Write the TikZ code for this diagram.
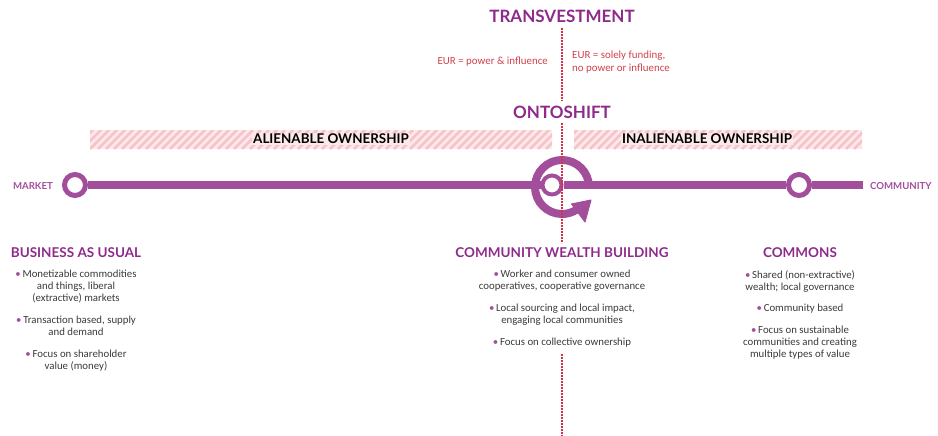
\documentclass[tikz,border=0pt]{standalone}
\usepackage{fontspec}
\setmainfont{Carlito}
\newfontfamily\headfont{Lato}
\usetikzlibrary{arrows.meta}
\definecolor{plum}{HTML}{A24E9B}
\definecolor{plumdark}{HTML}{8E2B8A}
\definecolor{redtxt}{HTML}{D2404A}
\definecolor{dotred}{HTML}{D53049}
\definecolor{txt}{HTML}{3A3A3A}
\definecolor{barbase}{HTML}{FDE8EA}
\definecolor{barstripe}{HTML}{F6C3CA}
\newcommand\bt{\textcolor{plum}{\textbullet}\,}
\tikzset{
  bul/.style={font=\fontsize{10.8}{12}\selectfont, text=txt, align=center, inner sep=0pt, anchor=north},
  head/.style={font=\headfont\bfseries\fontsize{13.5}{14}\selectfont, text=plumdark, inner sep=0pt},
  bigtitle/.style={font=\headfont\bfseries\fontsize{17}{18}\selectfont, text=plumdark, inner sep=1pt, fill=white},
  endlabel/.style={font=\headfont\bfseries\fontsize{9.6}{10}\selectfont, text=plum, inner sep=0pt},
  bartext/.style={font=\headfont\bfseries\fontsize{13.4}{14}\selectfont, text=black, fill=barbase, inner sep=1.5pt},
  eur/.style={font=\fontsize{10.9}{13}\selectfont, text=redtxt, inner sep=0pt},
  mainline/.style={draw=plum, line width=8.5pt},
  stop/.style={circle, draw=plum, fill=white, line width=5pt, minimum size=21pt, inner sep=0pt},
  ontostop/.style={circle, draw=plum, fill=white, line width=4pt, minimum size=19pt, inner sep=0pt},
  divider/.style={draw=dotred, line width=1.6pt, dash pattern=on 1.6pt off 1.4pt},
  ringline/.style={draw=plum, line width=8pt},
  arrowtip/.style={fill=plum, draw=plum, line width=1pt, line join=round},
}
\begin{document}
\begin{tikzpicture}[x=1pt,y=-1pt]
\useasboundingbox (0,0) rectangle (938,436);

% hatched bars
\foreach \xa/\xb in {90/552, 574/862}{
  \fill[barbase] (\xa,130) rectangle (\xb,149);
  \begin{scope}
    \clip (\xa,130) rectangle (\xb,149);
    \foreach \k in {-3,...,100}{
      \draw[barstripe, line width=2.6pt] ({\xa+\k*8},149) -- ({\xa+\k*8+19},130);
    }
  \end{scope}
}
\node[bartext] (alien) at (331,139) {ALIENABLE OWNERSHIP};
\node[bartext] (inalien) at (707,139) {INALIENABLE OWNERSHIP};

% main line
\coordinate (lineend) at (863,185);
\node[stop] (market) at (75,185) {};
\node[stop] (commons) at (799,185) {};
\node[ontostop] (onto) at (552,185) {};
\draw[mainline] (market.east) -- (onto.west);
\draw[mainline] (onto.east) -- (commons.west);
\draw[mainline] (commons.east) -- (lineend);

% ontoshift ring with arrow
\coordinate (ringc) at (562,187);
\draw[ringline] ([xshift=27pt]ringc) arc[start angle=0, end angle=-304, radius=27];
\coordinate (tipA) at (591,200);
\coordinate (tipB) at (571.5,204);
\coordinate (tipC) at (585,222);
\filldraw[arrowtip] (tipA) -- (tipB) -- (tipC) -- cycle;

% labels at line ends
\node[endlabel, anchor=east] (marketlbl) at (53,186) {MARKET};
\node[endlabel, anchor=west] (communitylbl) at (870,186) {COMMUNITY};

% titles
\node[bigtitle] (transv) at (562,16) {TRANSVESTMENT};
\node[bigtitle] (ontoshift) at (562,112) {ONTOSHIFT};

% dotted divider
\coordinate (d0) at (562,28);
\coordinate (d1) at (562,101);
\coordinate (d2) at (562,123);
\coordinate (d3) at (562,243);
\coordinate (d4) at (562,354);
\coordinate (d5) at (562,436);
\draw[divider] (d0) -- (d1);
\draw[divider] (d2) -- (d3);
\draw[divider] (d4) -- (d5);

% EUR labels
\node[eur, anchor=east] (eurl) at (548,62) {EUR = power \& influence};
\node[eur, anchor=west, align=left] (eurr) at (572,62.5) {EUR = solely funding,\\no power or influence};

% headings
\node[head] (bau) at (76,253) {BUSINESS AS USUAL};
\node[head] (cwb) at (562,253) {COMMUNITY WEALTH BUILDING};
\node[head] (com) at (800,253) {COMMONS};

% bullets: business as usual
\node[bul] (b1) at (76,270) {\bt Monetizable commodities\\and things, liberal\\(extractive) markets};
\node[bul] (b2) at (76,316) {\bt Transaction based, supply\\and demand};
\node[bul] (b3) at (76,350) {\bt Focus on shareholder\\value (money)};

% bullets: community wealth building
\node[bul] (c1) at (562,270) {\bt Worker and consumer owned\\cooperatives, cooperative governance};
\node[bul] (c2) at (562,304) {\bt Local sourcing and local impact,\\engaging local communities};
\node[bul] (c3) at (562,338) {\bt Focus on collective ownership};

% bullets: commons
\node[bul] (m1) at (800,270) {\bt Shared (non-extractive)\\wealth; local governance};
\node[bul] (m2) at (800,304) {\bt Community based};
\node[bul] (m3) at (800,326) {\bt Focus on sustainable\\communities and creating\\multiple types of value};
\end{tikzpicture}
\end{document}
